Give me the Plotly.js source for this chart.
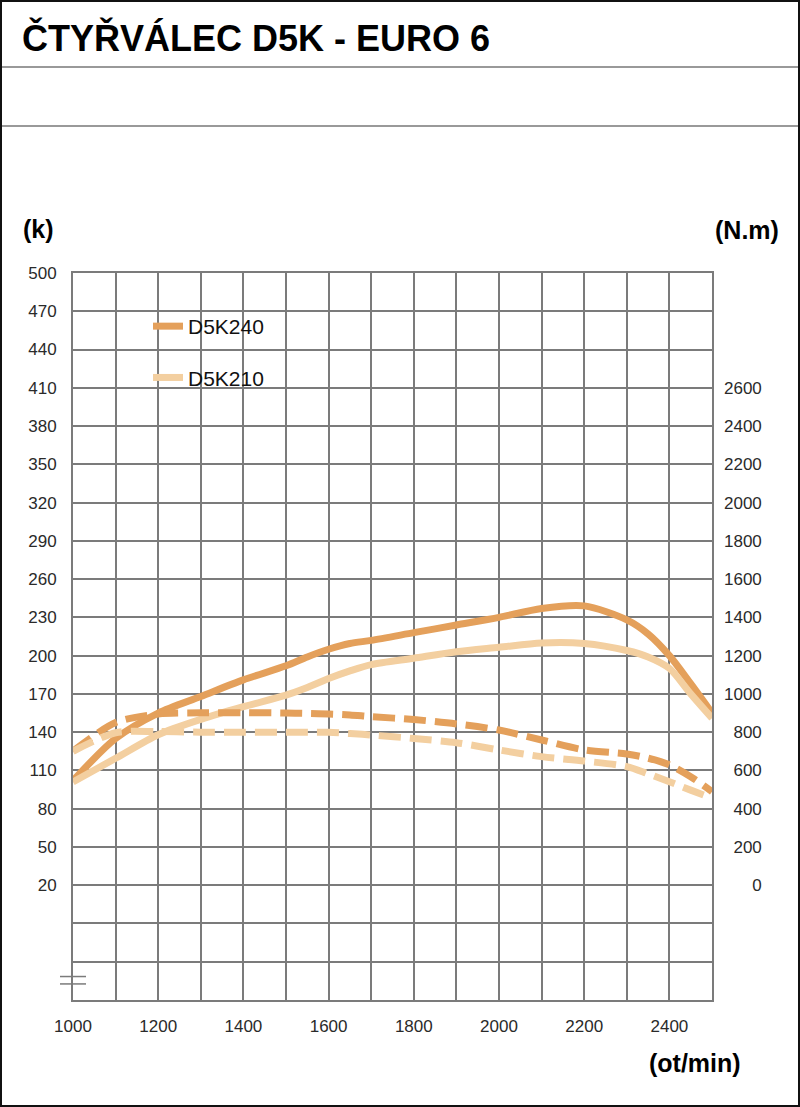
<!DOCTYPE html>
<html>
<head>
<meta charset="utf-8">
<script src="https://cdn.plot.ly/plotly-3.0.1.min.js"></script>
<style>
html,body{margin:0;padding:0;background:#fff;}
#chart{width:800px;height:1107px;}
</style>
</head>
<body>
<div id="chart"></div>
<script>
// ---- data ----
const rpm = [1000, 1100, 1200, 1300, 1400, 1500, 1550, 1600, 1650, 1700, 1800, 1900, 2000, 2100, 2200, 2300, 2350, 2400, 2450, 2500];
const powerD5K240 = [102, 135, 155, 168, 181, 192, 199, 205, 209.5, 212, 218, 224, 230, 237, 239, 228, 217, 200, 178, 155];
const powerD5K210 = [101, 119.5, 138, 150, 160, 169, 175, 182, 188, 193, 198, 203, 206.5, 210, 209.6, 204, 199, 190, 170, 151];
const torqueD5K240 = [700, 850, 895, 901, 902, 900, 898, 895, 890, 881, 866, 843, 811, 759, 707, 686, 664, 629, 567, 489];
const torqueD5K210 = [700, 797, 803, 800, 800, 800, 800, 799, 793, 785, 767, 745, 707, 672, 649, 620, 582, 541, 497, 455];
const seriesNames = ['D5K240', 'D5K210'];
const xTickVals = [1000, 1200, 1400, 1600, 1800, 2000, 2200, 2400];
const yLeftTickVals = [-40, -10, 20, 50, 80, 110, 140, 170, 200, 230, 260, 290, 320, 350, 380, 410, 440, 470, 500];
const yLeftTickText = ['', '', '20', '50', '80', '110', '140', '170', '200', '230', '260', '290', '320', '350', '380', '410', '440', '470', '500'];
const yRightTickVals = [0, 200, 400, 600, 800, 1000, 1200, 1400, 1600, 1800, 2000, 2200, 2400, 2600];
const titleText = 'ČTYŘVÁLEC D5K - EURO 6';
const leftUnit = '(k)';
const rightUnit = '(N.m)';
const xUnit = '(ot/min)';

// ---- styling ----
const darkC = '#E4A05B';
const lightC = '#F3CFA0';
const gridC = '#7b7b7b';
const GW = 2;
const W = 800, H = 1107;
const M = {l: 73, r: 88, t: 273, b: 107};
const PW = W - M.l - M.r, PH = H - M.t - M.b;
const px = x => (x - M.l) / PW;
const py = y => 1 - (y - M.t) / PH;
const FS = '\u2007';
const pad = s => FS.repeat(4 - s.length) + s;

const traces = [
  {x: rpm, y: torqueD5K240, yaxis: 'y2', mode: 'lines', name: seriesNames[0] + ' Nm', showlegend: false,
   line: {color: darkC, width: 7, dash: '22px,9px', shape: 'spline', smoothing: 0.8}},
  {x: rpm, y: torqueD5K210, yaxis: 'y2', mode: 'lines', name: seriesNames[1] + ' Nm', showlegend: false,
   line: {color: lightC, width: 7, dash: '22px,9px', shape: 'spline', smoothing: 0.8}},
  {x: rpm, y: powerD5K240, mode: 'lines', name: seriesNames[0], legendgroup: 'a',
   line: {color: darkC, width: 7, shape: 'spline', smoothing: 0.8}},
  {x: rpm, y: powerD5K210, mode: 'lines', name: seriesNames[1], legendgroup: 'b',
   line: {color: lightC, width: 7, shape: 'spline', smoothing: 0.8}}
];

const tickFont = {family: 'Liberation Sans, Arial, sans-serif', size: 17, color: '#2a2a2a'};
const unitFont = {family: 'Liberation Sans, Arial, sans-serif', size: 25, color: '#000', weight: 'bold'};

const layout = {
  width: W, height: H,
  margin: M,
  paper_bgcolor: '#fff', plot_bgcolor: '#fff',
  showlegend: true,
  title: {text: titleText, x: 22 / W, xanchor: 'left', xref: 'container', y: 1 - 38 / H, yanchor: 'middle', yref: 'container',
          font: {family: 'Liberation Sans, Arial, sans-serif', size: 36, color: '#000', weight: 'bold'}},
  xaxis: {range: [1000, 2500], tickvals: xTickVals, showgrid: true, gridcolor: gridC, gridwidth: GW,
          minor: {dtick: 100, tick0: 1000, showgrid: true, gridcolor: gridC, gridwidth: GW},
          showline: true, linecolor: gridC, linewidth: GW, mirror: true, ticks: '', zeroline: false,
          tickfont: tickFont, ticklabelstandoff: 10},
  yaxis: {range: [-70, 500], tickvals: yLeftTickVals, ticktext: yLeftTickText, showgrid: true, gridcolor: gridC, gridwidth: GW,
          showline: true, linecolor: gridC, linewidth: GW, mirror: true, ticks: '', zeroline: false,
          tickfont: tickFont, ticklabelstandoff: 11},
  yaxis2: {range: [-600, 3200], overlaying: 'y', side: 'right', tickvals: yRightTickVals,
           ticktext: yRightTickVals.map(v => pad(String(v))), showgrid: false, zeroline: false, showline: false, ticks: '',
           tickfont: tickFont, ticklabelstandoff: 11},
  legend: {x: px(148), y: py(306), xanchor: 'left', yanchor: 'top', bgcolor: 'rgba(0,0,0,0)', borderwidth: 0,
           font: {family: 'Liberation Sans, Arial, sans-serif', size: 21, color: '#111'},
           tracegroupgap: 21, itemwidth: 30},
  shapes: [
    {type: 'rect', xref: 'paper', yref: 'paper', x0: px(137), x1: px(307), y0: py(408), y1: py(297),
     fillcolor: '#fff', line: {width: 0}, layer: 'between'},
    {type: 'line', xref: 'paper', yref: 'paper', x0: px(0), x1: px(W), y0: py(67), y1: py(67), line: {color: '#999', width: 2}},
    {type: 'line', xref: 'paper', yref: 'paper', x0: px(0), x1: px(W), y0: py(126), y1: py(126), line: {color: '#999', width: 2}},
    {type: 'rect', xref: 'paper', yref: 'paper', x0: px(1), x1: px(W - 1), y0: py(H - 1), y1: py(1), line: {color: '#111', width: 2}},
    {type: 'line', xref: 'paper', yref: 'y', x0: px(60), x1: px(86), y0: -51.6, y1: -51.6, line: {color: gridC, width: 1.5}},
    {type: 'line', xref: 'paper', yref: 'y', x0: px(60), x1: px(86), y0: -57.4, y1: -57.4, line: {color: gridC, width: 1.5}}
  ],
  annotations: [
    {text: leftUnit, xref: 'paper', yref: 'paper', x: px(38), y: py(229), showarrow: false, font: unitFont, xanchor: 'center', yanchor: 'middle'},
    {text: rightUnit, xref: 'paper', yref: 'paper', x: px(747), y: py(230), showarrow: false, font: unitFont, xanchor: 'center', yanchor: 'middle'},
    {text: xUnit, xref: 'paper', yref: 'paper', x: px(695), y: py(1063), showarrow: false, font: unitFont, xanchor: 'center', yanchor: 'middle'}
  ]
};

Plotly.newPlot('chart', traces, layout, {staticPlot: true, displayModeBar: false});
</script>
</body>
</html>
